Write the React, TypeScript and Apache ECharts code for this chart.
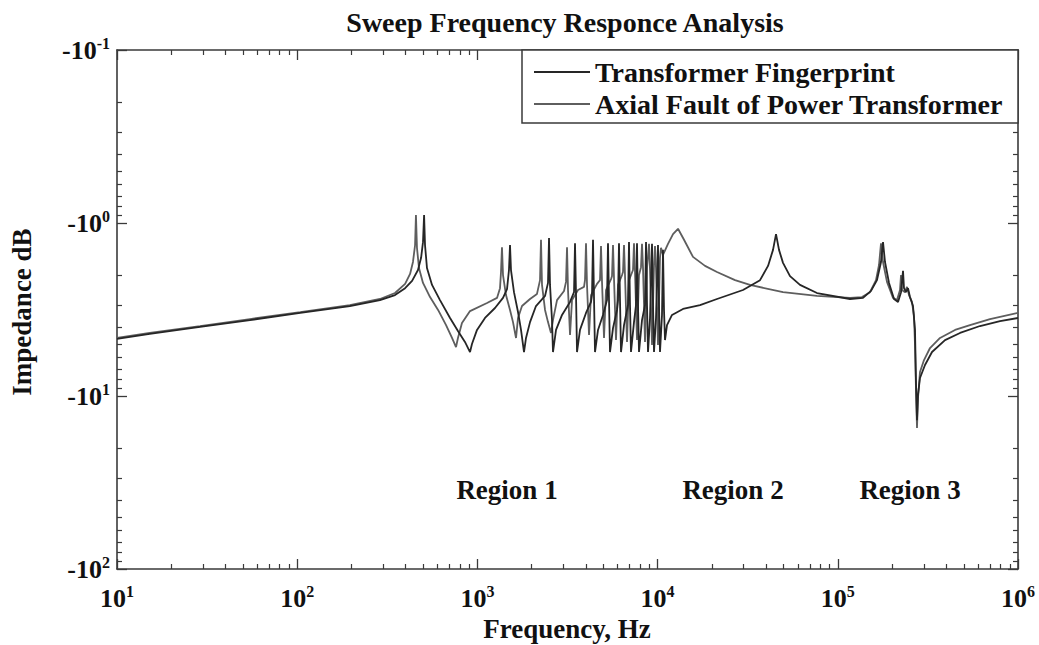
import React, { useEffect, useRef } from "react";
import * as echarts from "echarts";

// ---- Data (frequency in Hz, impedance in dB, negative values) ----
const fingerprintFreq = [
  10, 15.2, 28.9, 54.7, 104, 196, 288, 349, 397, 434, 468, 487, 499, 506, 512, 525, 560, 620, 705, 780, 853, 910,
  933, 995, 1102, 1252, 1387, 1460, 1497, 1517, 1536, 1596, 1680, 1746, 1814, 1861, 1959, 2114, 2373, 2465, 2497,
  2529, 2594, 2627, 2731, 2949, 3266, 3437, 3481, 3526, 3571, 3710, 4006, 4270, 4325, 4381, 4437, 4494, 4670, 4978,
  5239, 5306, 5374, 5443, 5656, 5952, 6029, 6106, 6185, 6265, 6510, 6851, 6939, 7028, 7118, 7397, 7588, 7686, 7784,
  7885, 8193, 8514, 8624, 8735, 8847, 9076, 9311, 9431, 9552, 9798, 10051, 10180, 10311, 10578, 10715, 10852, 10992,
  11276, 12024, 13836, 17195, 21357, 29785, 37016, 41011, 43703, 45409, 47182, 49652, 54295, 61687, 76657, 116872,
  138000, 152850, 165000, 173700, 178200, 182800, 192400, 205100, 215900, 224300, 230100, 233000, 239000, 245200,
  251500, 261400, 268200, 271600, 275100, 278600, 285800, 304700, 333300, 393500, 476700, 615300, 794800, 1000000,
];
const fingerprintImpedance = [
  -4.68, -4.38, -3.99, -3.64, -3.31, -3.02, -2.79, -2.61, -2.38, -2.16, -1.87, -1.59, -1.29, -0.899, -1.34, -1.82,
  -2.28, -2.79, -3.54, -4.21, -4.87, -5.57, -5.01, -4.15, -3.54, -3.1, -2.71, -2.41, -1.87, -1.34, -1.87, -2.51,
  -3.27, -4.15, -5.57, -4.62, -3.74, -3.02, -2.64, -2.22, -1.22, -2.28, -3.64, -5.57, -4.15, -3.4, -2.86, -2.51,
  -1.31, -2.61, -5.57, -4.15, -3.31, -2.86, -2.61, -1.25, -2.71, -5.57, -4.15, -3.4, -2.79, -1.31, -2.79, -5.57,
  -4.05, -3.18, -2.79, -1.31, -2.79, -5.57, -3.89, -2.98, -1.29, -2.98, -5.57, -3.74, -2.98, -1.31, -2.98, -5.57,
  -3.64, -2.98, -1.29, -2.98, -5.57, -3.54, -1.32, -2.98, -5.57, -3.54, -1.34, -2.98, -5.57, -3.4, -1.43, -3.18,
  -4.75, -3.89, -3.4, -3.14, -2.98, -2.75, -2.44, -2.14, -1.77, -1.43, -1.16, -1.43, -1.7, -2.03, -2.28, -2.54,
  -2.75, -2.71, -2.47, -2.14, -1.68, -1.29, -1.68, -2.22, -2.75, -2.86, -2.51, -1.89, -2.38, -2.51, -2.38, -2.68,
  -3.02, -4.15, -8.41, -13.8, -9.87, -7.87, -6.62, -5.57, -4.75, -4.32, -3.94, -3.69, -3.54,
];

const faultFreq = [
  10, 15.2, 28.9, 54.7, 104, 196, 288, 349, 397, 423, 439, 451, 456, 462, 474, 499, 546, 605, 670, 723, 761, 780,
  821, 910, 1131, 1285, 1335, 1352, 1369, 1387, 1441, 1517, 1576, 1638, 1680, 1768, 1959, 2141, 2226, 2254, 2283,
  2373, 2465, 2561, 2627, 2766, 3025, 3103, 3143, 3183, 3266, 3350, 3617, 3905, 3955, 4006, 4058, 4163, 4270, 4611,
  4791, 4852, 4915, 5042, 5172, 5513, 5584, 5656, 5728, 5877, 6029, 6345, 6427, 6510, 6593, 6764, 6939, 7303, 7397,
  7492, 7686, 7885, 8089, 8193, 8299, 8514, 8735, 8961, 9076, 9311, 9552, 9674, 9798, 10051, 10311, 10444, 10715,
  11421, 12179, 12982, 14014, 15717, 18333, 21357, 26893, 32563, 49652, 76657, 116872, 136240, 150900, 162930,
  169300, 173700, 178200, 187500, 202500, 213100, 221400, 224300, 227200, 236000, 242100, 248400, 258000, 264800,
  268200, 271600, 275100, 278600, 285800, 300900, 324900, 369200, 447200, 541500, 699200, 1000000,
];
const faultImpedance = [
  -4.62, -4.32, -3.94, -3.59, -3.27, -2.98, -2.75, -2.54, -2.25, -1.97, -1.68, -1.34, -0.899, -1.39, -1.82, -2.22,
  -2.68, -3.18, -3.89, -4.62, -5.21, -4.62, -3.78, -3.23, -2.9, -2.71, -2.38, -1.92, -1.38, -2.0, -2.61, -3.18,
  -3.74, -4.62, -3.54, -3.02, -2.75, -2.57, -2.14, -1.25, -2.28, -3.18, -3.74, -4.32, -3.64, -2.79, -2.47, -2.19,
  -1.38, -2.44, -4.44, -2.79, -2.44, -2.34, -2.14, -1.31, -2.28, -4.44, -2.61, -2.25, -2.14, -1.36, -2.19, -4.62,
  -2.44, -2.11, -2.03, -1.34, -2.08, -4.75, -2.28, -2.0, -1.92, -1.34, -2.0, -4.87, -2.14, -1.87, -1.31, -1.92,
  -4.75, -2.0, -1.8, -1.32, -1.82, -4.87, -1.82, -1.32, -1.87, -5.07, -1.75, -1.36, -1.82, -5.07, -1.59, -1.39,
  -1.53, -1.32, -1.16, -1.08, -1.25, -1.57, -1.77, -1.92, -2.14, -2.28, -2.51, -2.64, -2.71, -2.68, -2.51, -2.14,
  -1.75, -1.31, -1.68, -2.19, -2.71, -2.79, -2.44, -2.0, -2.44, -2.51, -2.34, -2.61, -2.86, -3.45, -5.07, -9.23,
  -15.3, -10.3, -7.27, -6.2, -5.28, -4.62, -4.15, -3.89, -3.59, -3.31,
];

const seriesNames = ["Transformer Fingerprint", "Axial Fault of Power Transformer"];
const xMajorTicks = [10, 100, 1000, 10000, 100000, 1000000];
const yMajorTicks = [0.1, 1, 10, 100]; // magnitudes of -10^-1 ... -10^2
const regionLabels = ["Region 1", "Region 2", "Region 3"];
const chartTitle = "Sweep Frequency Responce Analysis";
const xAxisTitle = "Frequency, Hz";
const yAxisTitle = "Impedance dB";

const minorOf = (majors: number[]) => {
  const out: number[] = [];
  for (let i = 0; i < majors.length - 1; i++) for (let k = 2; k <= 9; k++) out.push(+(majors[i] * k).toPrecision(6));
  return out;
};

const FONT = "'Liberation Serif', 'Times New Roman', serif";
const AX = "#3a3a3a";

export default function App() {
  const ref = useRef<HTMLDivElement>(null);
  useEffect(() => {
    if (!ref.current) return;
    const chart = echarts.init(ref.current, undefined, { renderer: "svg" });
    const rich = {
      b: { fontFamily: FONT, fontWeight: "bold", fontSize: 26, color: "#111", lineHeight: 30 },
      s: { fontFamily: FONT, fontWeight: "bold", fontSize: 16, color: "#111", verticalAlign: "top", lineHeight: 16 },
    };
    const grid = { left: 117, right: 21, top: 50, bottom: 76 };
    const xBase = { type: "log", logBase: 10, min: 10, max: 1000000, splitLine: { show: false }, gridIndex: 0 };
    const yBase = { type: "log", logBase: 10, min: 0.1, max: 100, inverse: true, splitLine: { show: false }, gridIndex: 0 };
    const lineAx = { show: true, lineStyle: { color: AX, width: 1.6 } };
    const noLine = { show: false };
    const major = { show: true, inside: true, length: 10, lineStyle: { color: AX, width: 1.3 } };
    const minorX = { show: true, inside: true, length: 5, lineStyle: { color: AX, width: 1.2 }, customValues: minorOf(xMajorTicks) };
    const minorY = { show: true, inside: true, length: 5, lineStyle: { color: AX, width: 1.2 }, customValues: minorOf(yMajorTicks) };

    const option: any = {
      animation: false,
      backgroundColor: "#fff",
      grid,
      legend: {
        data: seriesNames,
        orient: "vertical",
        left: 522,
        top: 50,
        padding: [8, 10, 6, 12],
        itemGap: 4,
        itemWidth: 56,
        itemHeight: 2,
        icon: "rect",
        textStyle: { fontFamily: FONT, fontWeight: "bold", fontSize: 28, color: "#111", lineHeight: 28 },
      },
      xAxis: [
        {
          ...xBase, position: "bottom", axisLine: lineAx,
          axisTick: { ...major, customValues: xMajorTicks },
          axisLabel: {
            show: true, margin: 14, customValues: xMajorTicks,
            formatter: (v: number) => `{b|10}{s|${Math.round(Math.log10(v))}}`, rich,
          },
        },
        { ...xBase, position: "bottom", axisLine: noLine, axisTick: minorX, axisLabel: { show: false } },
        { ...xBase, position: "top", axisLine: lineAx, axisTick: { ...major, customValues: xMajorTicks }, axisLabel: { show: false } },
        { ...xBase, position: "top", axisLine: noLine, axisTick: minorX, axisLabel: { show: false } },
      ],
      yAxis: [
        {
          ...yBase, position: "left", axisLine: lineAx,
          axisTick: { ...major, customValues: yMajorTicks },
          axisLabel: {
            show: true, margin: 7, customValues: yMajorTicks,
            formatter: (v: number) => `{b|-10}{s|${Math.round(Math.log10(v))}}`, rich,
          },
        },
        { ...yBase, position: "left", axisLine: noLine, axisTick: minorY, axisLabel: { show: false } },
        { ...yBase, position: "right", axisLine: lineAx, axisTick: { ...major, customValues: yMajorTicks }, axisLabel: { show: false } },
        { ...yBase, position: "right", axisLine: noLine, axisTick: minorY, axisLabel: { show: false } },
      ],
      series: [
        {
          name: seriesNames[0], type: "line", xAxisIndex: 0, yAxisIndex: 0, symbol: "none", showSymbol: false,
          lineStyle: { color: "#262626", width: 1.8 }, itemStyle: { color: "#262626" }, z: 3,
          data: fingerprintFreq.map((f, i) => [f, -fingerprintImpedance[i]]),
        },
        {
          name: seriesNames[1], type: "line", xAxisIndex: 0, yAxisIndex: 0, symbol: "none", showSymbol: false,
          lineStyle: { color: "#5e5e5e", width: 1.8 }, itemStyle: { color: "#5e5e5e" }, z: 2,
          data: faultFreq.map((f, i) => [f, -faultImpedance[i]]),
        },
      ],
      graphic: [
        { type: "rect", z: 1, shape: { x: 522, y: 50, width: 496, height: 73 }, style: { fill: "#fff", stroke: AX, lineWidth: 1.5 } },
        { type: "text", x: 565, y: 22, style: { text: chartTitle, font: `bold 28px ${FONT}`, fill: "#111", align: "center", verticalAlign: "middle" } },
        { type: "text", x: 567, y: 629, style: { text: xAxisTitle, font: `bold 27px ${FONT}`, fill: "#111", align: "center", verticalAlign: "middle" } },
        { type: "text", x: 22, y: 312, rotation: Math.PI / 2, style: { text: yAxisTitle, font: `bold 27px ${FONT}`, fill: "#111", align: "center", verticalAlign: "middle" } },
        { type: "text", x: 507, y: 490, style: { text: regionLabels[0], font: `bold 27px ${FONT}`, fill: "#111", align: "center", verticalAlign: "middle" } },
        { type: "text", x: 733, y: 490, style: { text: regionLabels[1], font: `bold 27px ${FONT}`, fill: "#111", align: "center", verticalAlign: "middle" } },
        { type: "text", x: 910, y: 490, style: { text: regionLabels[2], font: `bold 27px ${FONT}`, fill: "#111", align: "center", verticalAlign: "middle" } },
      ],
    };
    chart.setOption(option);
    return () => chart.dispose();
  }, []);
  return (
    <div
      ref={ref}
      style={{ position: "fixed", left: 0, top: 0, width: 1039, height: 645, background: "#fff" }}
    />
  );
}
